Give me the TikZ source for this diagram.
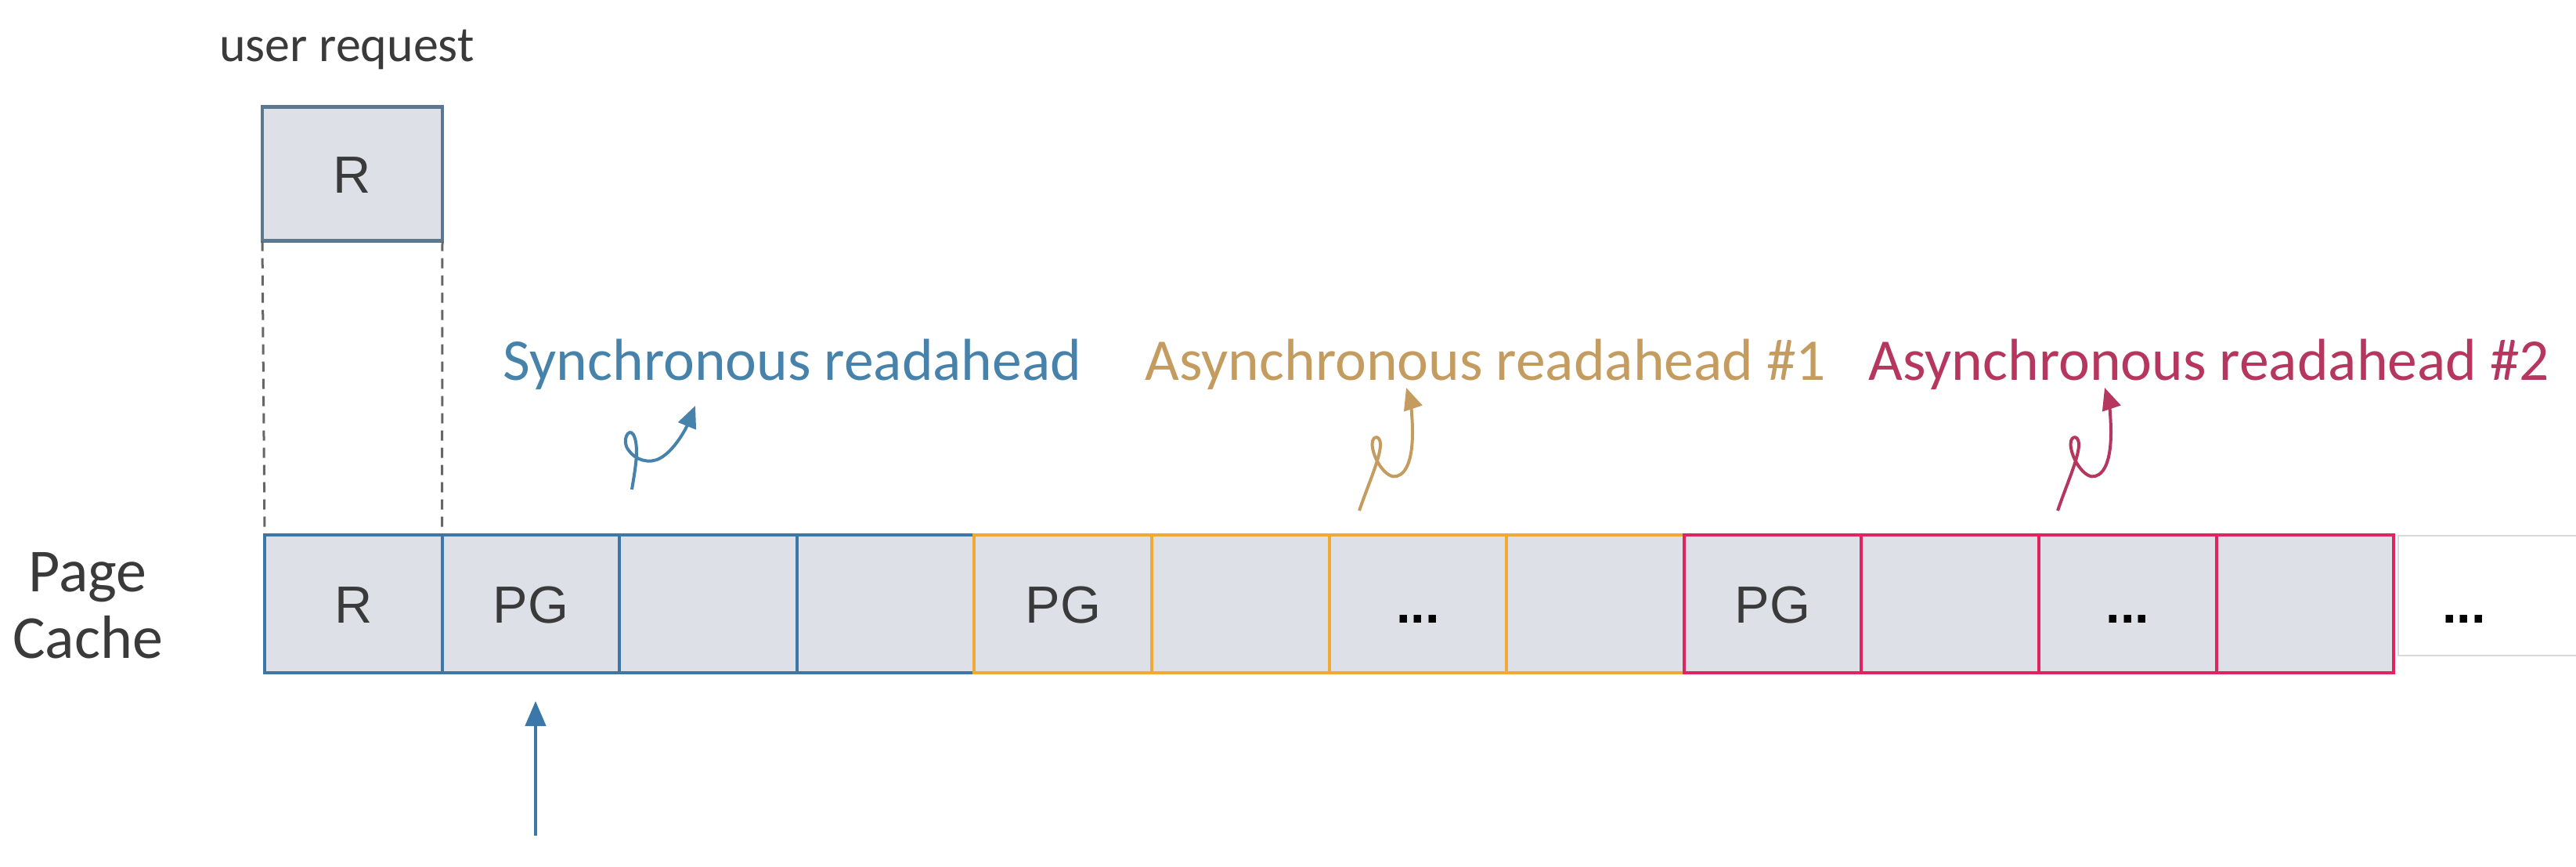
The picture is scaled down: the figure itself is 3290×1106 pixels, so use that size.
\documentclass[tikz,border=0pt]{standalone}
\usepackage{fontspec}
\setmainfont{Liberation Sans}
\newfontfamily\lblfont{Carlito}
\usetikzlibrary{arrows.meta,positioning}
\definecolor{cellfill}{HTML}{DDE0E7}
\definecolor{syncblue}{HTML}{3C77AA}
\definecolor{synctext}{HTML}{4682AA}
\definecolor{asyncora}{HTML}{F0A935}
\definecolor{asyncoratext}{HTML}{C49C60}
\definecolor{asyncred}{HTML}{E0245E}
\definecolor{asyncredtext}{HTML}{B5365F}
\definecolor{reqgray}{HTML}{5B7890}
\definecolor{pagetext}{HTML}{3A3A3A}
\newcommand{\celldots}{\textcolor{black}{\textbf{...}}}

\begin{document}
\begin{tikzpicture}[x=0.1mm, y=-0.1mm,
  cell/.style={draw, fill=cellfill, line width=0.4mm, minimum width=22.66mm,
               minimum height=17.6mm, inner sep=0pt, outer sep=0pt,
               text=pagetext, font=\fontsize{19}{19}\selectfont,
               text height=4.8mm, text depth=0pt},
  reqbox/.style={cell, draw=reqgray, line width=0.45mm, minimum width=23mm,
                 minimum height=17.1mm},
  lbl/.style={font=\lblfont\fontsize{21.5}{25}\selectfont, inner sep=0pt,
              anchor=base west},
  guide/.style={draw=black!60, line width=0.3mm, dash pattern=on 1.3mm off 0.9mm},
  curl/.style={line width=0.4mm, -{Triangle[length=2.8mm, width=2.4mm]}},
  up/.style={draw=syncblue, line width=0.45mm, -{Triangle[length=3.2mm, width=2.6mm]}}]

\useasboundingbox (0,0) rectangle (3290,1106);

% the requested page
\node[font=\lblfont\fontsize{18.2}{20}\selectfont, text=pagetext, anchor=base]
      (ureqlbl) at (443,78) {user request};
\node[reqbox] (req) at (450,222) {R};

% page cache row
\node[align=center, font=\lblfont\fontsize{22.2}{24.2}\selectfont, text=pagetext]
      (pc) at (112,773) {Page\\Cache};
\foreach \i/\txt/\col in {1/R/syncblue, 2/PG/syncblue, 3//syncblue, 4//syncblue,
    5/PG/asyncora, 6//asyncora, 7/\celldots/asyncora, 8//asyncora,
    9/PG/asyncred, 10//asyncred, 11/\celldots/asyncred, 12//asyncred} {
  \node[cell, draw=\col] (c\i) at ({338+(\i-0.5)*226.6},771) {\txt};
}
\node[draw=black!15, line width=0.2mm, minimum width=26mm, minimum height=15.3mm,
      inner sep=0pt, anchor=north west] (more) at (3062,683) {};
\node[cell, draw=none, fill=none, minimum width=0pt, minimum height=0pt,
      anchor=base] (moredots) at (3147,795) {\celldots};

\draw[guide] (req.south west) -- (c1.north west);
\draw[guide] (req.south east) -- (c1.north east);

% readahead windows
\node[lbl, text=synctext] (sync) at (642,485) {Synchronous readahead};
\node[lbl, text=asyncoratext] (async1) at (1462,485) {Asynchronous readahead \#1};
\node[lbl, text=asyncredtext] (async2) at (2386,485) {Asynchronous readahead \#2};

\coordinate (s0) at (807,625);
\coordinate (s1) at (1736,652);
\coordinate (s2) at (2628,652);
\begin{scope}[shift={(s0)}]
  \draw[curl, synctext] (0,0) .. controls (4,-25) and (10,-55) .. (2,-70)
    .. controls (-4,-80) and (-14,-62) .. (-4,-50)
    .. controls (4,-38) and (22,-32) .. (36,-40)
    .. controls (55,-50) and (70,-80) .. (81,-107);
\end{scope}
\foreach \s/\col in {s1/asyncoratext, s2/asyncredtext} {
  \begin{scope}[shift={(\s)}]
    \draw[curl, \col] (0,0) .. controls (12,-35) and (28,-70) .. (27,-86)
      .. controls (26,-98) and (14,-96) .. (17,-80)
      .. controls (20,-62) and (36,-40) .. (48,-44)
      .. controls (62,-48) and (68,-70) .. (68,-100)
      .. controls (68,-125) and (64,-145) .. (60,-157);
  \end{scope}
}

% page that triggered the read
\coordinate (trig) at (684,1067);
\draw[up, shorten >=3.6mm] (trig) -- (trig |- c2.south);
\end{tikzpicture}
\end{document}
